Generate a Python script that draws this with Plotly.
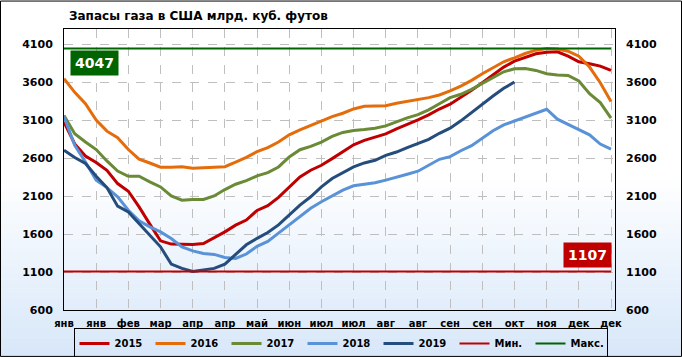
import plotly.graph_objects as go

# ---------------- data ----------------
tick_labels = ["янв", "янв", "фев", "мар", "апр", "апр", "май", "июн", "июл",
               "июл", "авг", "авг", "сен", "сен", "окт", "ноя", "дек", "дек"]

s2015 = [3078, 2790, 2630, 2545, 2442, 2267, 2166, 1960, 1732, 1512, 1469, 1464, 1464,
         1477, 1551, 1630, 1719, 1786, 1913, 1976, 2085, 2224, 2355, 2443, 2508, 2596,
         2683, 2779, 2836, 2879, 2923, 2989, 3045, 3107, 3172, 3250, 3313, 3400, 3496,
         3597, 3706, 3803, 3881, 3934, 3978, 3999, 4004, 3947, 3873, 3846, 3816, 3759]
s2016 = [3650, 3470, 3320, 3105, 2958, 2872, 2716, 2590, 2538, 2482, 2482, 2490, 2469,
         2475, 2482, 2490, 2551, 2612, 2688, 2740, 2814, 2910, 2976, 3032, 3098, 3150,
         3194, 3251, 3286, 3290, 3294, 3325, 3347, 3369, 3400, 3435, 3488, 3553, 3628,
         3715, 3794, 3873, 3925, 3982, 4026, 4047, 4040, 4012, 3947, 3803, 3597, 3348]
s2017 = [3166, 2925, 2815, 2715, 2565, 2433, 2363, 2363, 2289, 2223, 2104, 2048, 2057,
         2057, 2104, 2188, 2258, 2305, 2368, 2412, 2486, 2617, 2713, 2757, 2814, 2888,
         2941, 2967, 2980, 2997, 3028, 3085, 3133, 3176, 3238, 3320, 3400, 3444, 3510,
         3588, 3663, 3741, 3781, 3785, 3759, 3715, 3698, 3693, 3619, 3453, 3335, 3129]
s2018 = [3150, 2771, 2552, 2311, 2214, 2092, 1916, 1775, 1696, 1630, 1543, 1433, 1380,
         1346, 1333, 1293, 1280, 1338, 1440, 1504, 1613, 1722, 1831, 1941, 2028, 2107,
         2181, 2238, 2259, 2277, 2312, 2355, 2390, 2430, 2508, 2587, 2622, 2700, 2766,
         2867, 2963, 3041, 3094, 3147, 3203, 3247, 3116, 3050, 2985, 2910, 2788, 2722]
s2019 = [2706, 2610, 2531, 2363, 2214, 1969, 1894, 1741, 1600, 1433, 1205, 1149, 1107,
         1126, 1149, 1205, 1337, 1460, 1545, 1622, 1722, 1853, 1984, 2093, 2224, 2334,
         2408, 2487, 2539, 2574, 2639, 2683, 2740, 2792, 2850, 2930, 2998, 3094, 3203,
         3321, 3422, 3523, 3606]
min_value = 1107
max_value = 4047

series = [("2015", s2015, "#C00000"), ("2016", s2016, "#E46C0A"),
          ("2017", s2017, "#6A8A36"), ("2018", s2018, "#5A92D8"),
          ("2019", s2019, "#244C7C")]

n_weeks = len(s2015)
weeks = list(range(n_weeks))

# ---------------- geometry ----------------
W, H = 682, 357
L, R, T, B = 64, 615, 28.5, 310
PW, PH = R - L, B - T


def px_x(x):
    return (x - L) / PW


def px_y(y):
    return (B - y) / PH


fig = go.Figure()

for name, vals, col in series:
    fig.add_trace(go.Scatter(x=weeks[:len(vals)], y=vals, mode="lines", name=name,
                             line=dict(color=col, width=3), hoverinfo="x+y"))

fig.add_trace(go.Scatter(x=[0, n_weeks - 1], y=[min_value, min_value], mode="lines",
                         name="Мин.", line=dict(color="#C00000", width=2)))
fig.add_trace(go.Scatter(x=[0, n_weeks - 1], y=[max_value, max_value], mode="lines",
                         name="Макс.", line=dict(color="#006400", width=2)))
# dummy trace for right axis
fig.add_trace(go.Scatter(x=[0], y=[max_value], yaxis="y2", mode="lines",
                         showlegend=False, hoverinfo="skip",
                         line=dict(color="rgba(0,0,0,0)")))

# ---------------- background gradient ----------------
shapes = []
y0g, y1g = 175, H
nstr = 40
c_top = (255, 255, 255)
c_bot = (215, 231, 249)
for k in range(nstr):
    ya = y0g + (y1g - y0g) * k / nstr
    yb = y0g + (y1g - y0g) * (k + 1) / nstr
    t = (k + 0.5) / nstr
    c = tuple(int(round(c_top[j] + (c_bot[j] - c_top[j]) * t)) for j in range(3))
    shapes.append(dict(type="rect", xref="paper", yref="paper", layer="below",
                       x0=px_x(0), x1=px_x(W), y0=px_y(yb), y1=px_y(ya) + 0.002,
                       line=dict(width=0), fillcolor="rgb(%d,%d,%d)" % c))
# outer border
shapes.append(dict(type="rect", xref="paper", yref="paper", layer="above",
                   x0=px_x(0.5), x1=px_x(W - 0.5), y0=px_y(H - 0.5), y1=px_y(0.5),
                   line=dict(color="black", width=1)))

bold = dict(family="DejaVu Sans", color="black", weight="bold")

annotations = [
    dict(text="Запасы газа в США млрд. куб. футов", xref="paper", yref="paper",
         x=px_x(67), y=px_y(15), xanchor="left", yanchor="middle", showarrow=False,
         font=dict(size=12, **bold)),
    dict(text="4047", xref="paper", yref="paper", x=px_x(94.5), y=px_y(62.5),
         xanchor="center", yanchor="middle", showarrow=False, bgcolor="#006400",
         borderpad=4, font=dict(size=14, family="DejaVu Sans", color="white", weight="bold")),
    dict(text="1107", xref="paper", yref="paper", x=px_x(587), y=px_y(255),
         xanchor="center", yanchor="middle", showarrow=False, bgcolor="#C00000",
         borderpad=4, font=dict(size=14, family="DejaVu Sans", color="white", weight="bold")),
]

yrange = [600, 4305]
ytick = list(range(600, 4101, 500))

fig.update_layout(
    width=W, height=H,
    margin=dict(l=L, r=W - R, t=T, b=H - B, autoexpand=False),
    paper_bgcolor="white", plot_bgcolor="rgba(0,0,0,0)",
    shapes=shapes, annotations=annotations,
    showlegend=True,
    legend=dict(orientation="h", x=px_x(340.5), xanchor="center", y=px_y(343.5),
                yanchor="middle",
                bordercolor="black", borderwidth=1, bgcolor="rgba(0,0,0,0)",
                entrywidth=31, entrywidthmode="pixels",
                font=dict(size=10, **bold), tracegroupgap=0),
    xaxis=dict(range=[0, (R - L) / ((611 - L) / (n_weeks - 1))],
               tickvals=list(range(0, n_weeks, 3)), ticktext=tick_labels,
               showgrid=True, gridcolor="#BFBFBF", griddash="dash", gridwidth=1,
               showline=True, linecolor="black", linewidth=1, mirror=True,
               zeroline=False, ticks="", ticklabelstandoff=4,
               tickfont=dict(size=10, **bold)),
    yaxis=dict(range=yrange, tickvals=ytick, showgrid=True, gridcolor="#BFBFBF",
               griddash="dash", gridwidth=1, showline=True, linecolor="black",
               linewidth=1, mirror=True, zeroline=False, ticks="",
               ticklabelstandoff=8, tickfont=dict(size=11, **bold)),
    yaxis2=dict(range=yrange, tickvals=ytick, overlaying="y", side="right",
                showgrid=False, zeroline=False, ticks="", ticklabelstandoff=10,
                tickfont=dict(size=11, **bold)),
)

fig.write_html("out.html", config={"displayModeBar": False},
               post_script="document.body.style.margin='0';"
                           "document.body.style.overflow='hidden';")
